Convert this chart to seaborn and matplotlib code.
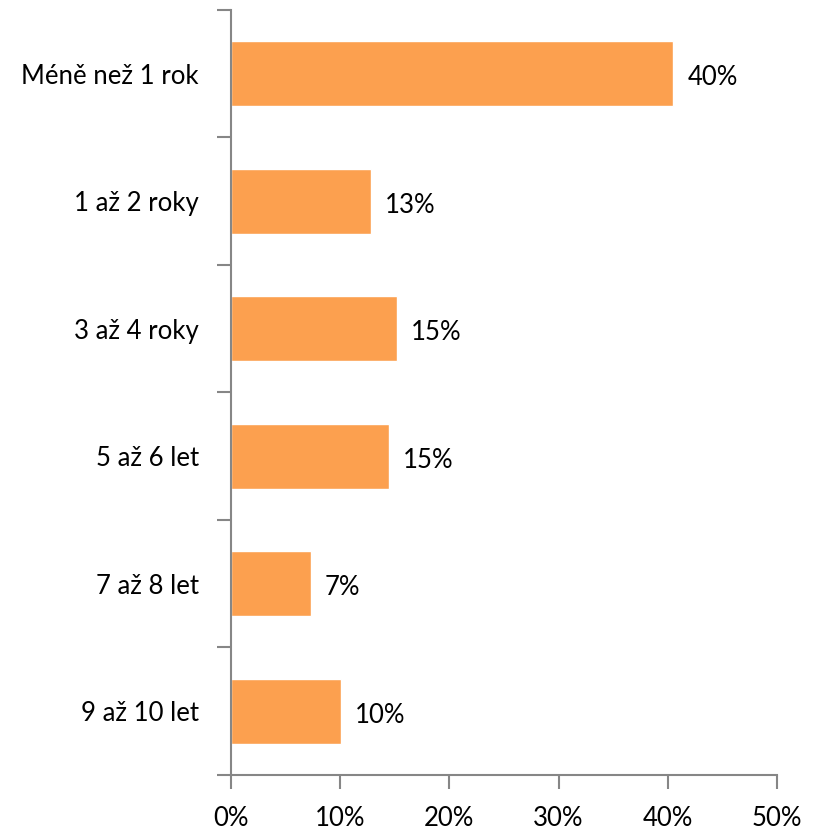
import matplotlib
matplotlib.use("Agg")
import matplotlib.pyplot as plt
import seaborn as sns
import pandas as pd
import numpy as np

categories = ["Méně než 1 rok", "1 až 2 roky", "3 až 4 roky", "5 až 6 let", "7 až 8 let", "9 až 10 let"]
values = [40.5, 12.8, 15.2, 14.5, 7.3, 10.1]
labels = ["40%", "13%", "15%", "15%", "7%", "10%"]
xticks = [0, 10, 20, 30, 40, 50]
xticklabels = ["0%", "10%", "20%", "30%", "40%", "50%"]

sns.set_style("white")
plt.rcParams['font.family'] = ['Lato', 'DejaVu Sans']

df = pd.DataFrame({"cat": categories, "val": values})

fig = plt.figure(figsize=(8.21, 8.30), dpi=100)
ax = fig.add_axes([231/821, 1-775/830, (777-231)/821, (775-10)/830])
sns.barplot(data=df, x="val", y="cat", orient="h", color="#FCA04F", saturation=1, width=0.51, ax=ax)

ax.set_xlim(0, 50)
ax.set_ylim(5.5, -0.5)
ax.set_xlabel("")
ax.set_ylabel("")
for s in ["top", "right"]:
    ax.spines[s].set_visible(False)
for s in ["left", "bottom"]:
    ax.spines[s].set_color("#868686")
    ax.spines[s].set_linewidth(1.5)

fs = 18.5
ax.set_xticks(xticks)
ax.set_xticklabels(xticklabels, fontsize=fs)
ax.tick_params(axis="x", which="both", bottom=True, length=10, width=1.5, color="#868686",
               direction="out", pad=12, labelcolor="black")
ax.set_yticks(range(len(categories)))
ax.set_yticklabels(categories, fontsize=fs)
ax.tick_params(axis="y", which="major", left=True, length=0, pad=23, labelcolor="black")
ax.set_yticks(np.arange(-0.5, len(categories), 1.0), minor=True)
ax.tick_params(axis="y", which="minor", left=True, length=10, width=1.5, color="#868686", direction="out")

for i, (v, lab) in enumerate(zip(values, labels)):
    ax.annotate(lab, xy=(v, i), xytext=(14, -4), textcoords="offset pixels",
                ha="left", va="center", fontsize=fs, color="black")

fig.savefig("out.png", dpi=100)
